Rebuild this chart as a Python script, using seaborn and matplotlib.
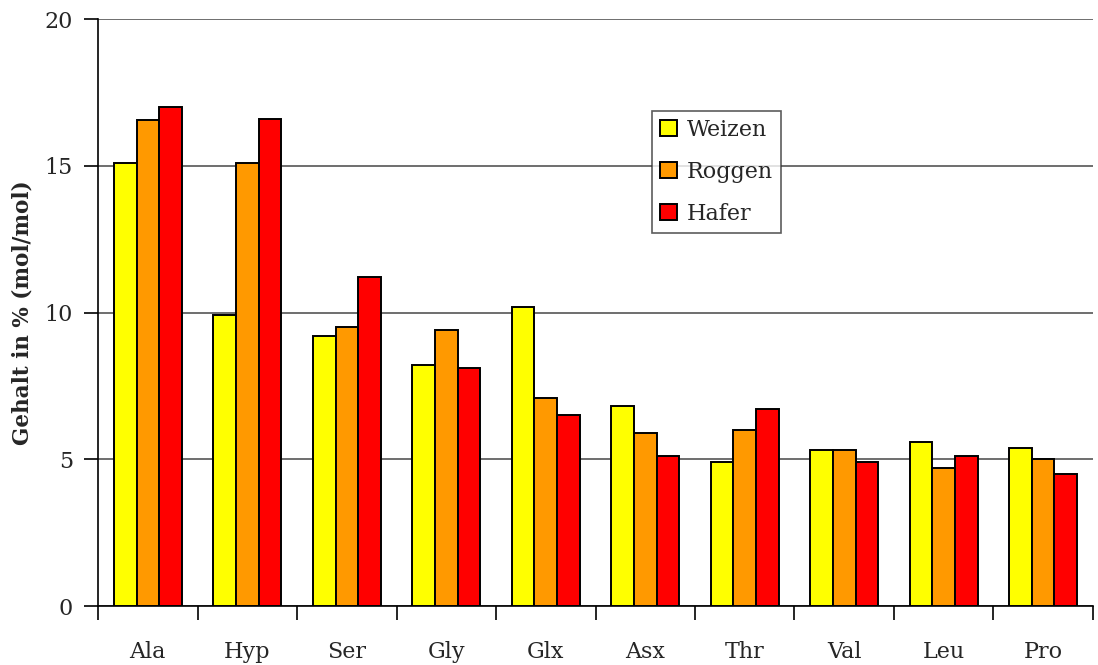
import matplotlib
matplotlib.use("Agg")
import matplotlib.pyplot as plt
import seaborn as sns
import pandas as pd
import numpy as np
from matplotlib.ticker import FixedLocator

amino_acids = ["Ala", "Hyp", "Ser", "Gly", "Glx", "Asx", "Thr", "Val", "Leu", "Pro"]
weizen = [15.1, 9.9, 9.2, 8.2, 10.2, 6.8, 4.9, 5.3, 5.6, 5.4]
roggen = [16.55, 15.1, 9.5, 9.4, 7.1, 5.9, 6.0, 5.3, 4.7, 5.0]
hafer = [17.0, 16.6, 11.2, 8.1, 6.5, 5.1, 6.7, 4.9, 5.1, 4.5]
grains = ["Weizen", "Roggen", "Hafer"]
colors = ["#FFFF00", "#FF9900", "#FF0000"]

df = pd.DataFrame({
    "Aminosäure": amino_acids * 3,
    "Gehalt": weizen + roggen + hafer,
    "Getreide": [g for g in grains for _ in amino_acids],
})

sns.set_style("white")
plt.rcParams["font.family"] = ["DejaVu Serif"]

fig = plt.figure(figsize=(10.98, 6.65), dpi=100)
ax = fig.add_axes([0.0893, 0.0887, 0.9061, 0.8827])

sns.barplot(data=df, x="Aminosäure", y="Gehalt", hue="Getreide",
            palette=colors, saturation=1, width=0.68,
            edgecolor="black", linewidth=1.4, ax=ax, zorder=3)

ax.set_ylim(0, 20)
ax.set_xlim(-0.5, len(amino_acids) - 0.5)
ax.set_yticks([0, 5, 10, 15, 20])
ax.yaxis.grid(True, color="#555555", linewidth=1.2, zorder=0)
ax.set_axisbelow(True)

for side in ["top", "right"]:
    ax.spines[side].set_visible(False)
for side in ["left", "bottom"]:
    ax.spines[side].set_color("black")
    ax.spines[side].set_linewidth(1.2)

# category boundaries get the tick marks, labels sit at the centres
ax.xaxis.set_minor_locator(FixedLocator(np.arange(-0.5, len(amino_acids), 1.0)))
ax.tick_params(axis="x", which="major", length=0, pad=25, labelsize=16)
ax.tick_params(axis="x", which="minor", length=10, width=1.2, color="black", bottom=True)
ax.tick_params(axis="y", which="major", length=10, width=1.2, color="black",
               left=True, pad=8, labelsize=16)

ax.set_xlabel("")
ax.set_ylabel("Gehalt in % (mol/mol)", fontsize=15.5, fontweight="bold", labelpad=8)

leg = ax.legend(loc="upper left", bbox_to_anchor=(0.557, 0.843), fontsize=16,
                frameon=True, fancybox=False, edgecolor="#333333",
                handlelength=0.75, handleheight=0.75, handletextpad=0.45,
                borderpad=0.35, labelspacing=0.9, borderaxespad=0)
leg.get_frame().set_linewidth(1.2)
leg.set_zorder(5)

fig.savefig("out.png", dpi=100)
